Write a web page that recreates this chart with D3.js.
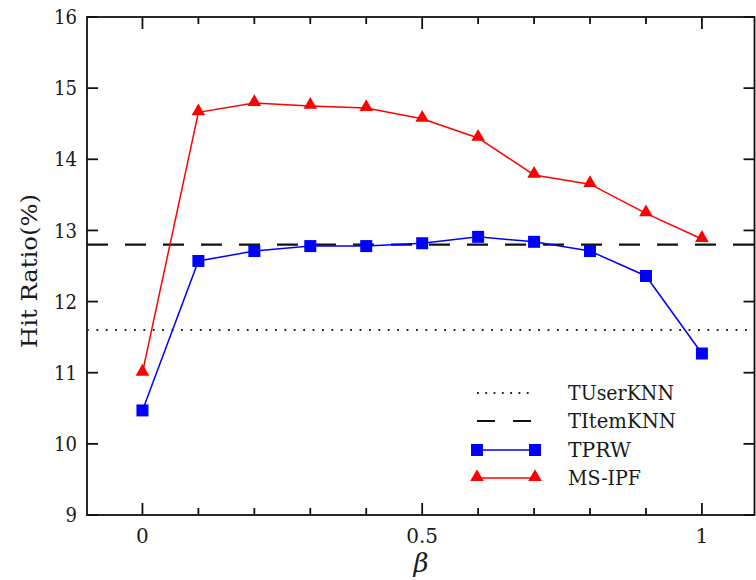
<!DOCTYPE html>
<html>
<head>
<meta charset="utf-8">
<script src="https://cdn.jsdelivr.net/npm/d3@7"></script>
<style>
  html, body { margin: 0; padding: 0; background: #fff; }
  svg { display: block; }
  text { font-family: "DejaVu Serif", "Liberation Serif", serif; fill: #1a1a1a; }
</style>
</head>
<body>
<svg id="chart" width="756" height="580"></svg>
<script>
// ---- data ----
const betas = [0, 0.1, 0.2, 0.3, 0.4, 0.5, 0.6, 0.7, 0.8, 0.9, 1.0];
const msipf = [11.0, 14.66, 14.79, 14.75, 14.72, 14.57, 14.30, 13.78, 13.65, 13.24, 12.88];
const tprw  = [10.47, 12.57, 12.71, 12.78, 12.78, 12.82, 12.91, 12.84, 12.71, 12.36, 11.27];
const tuserknn = 11.6;
const titemknn = 12.8;
const yTicks = [9, 10, 11, 12, 13, 14, 15, 16];
const xMajorTicks = [0, 0.5, 1];
const xMinorTicks = [0.1, 0.2, 0.3, 0.4, 0.6, 0.7, 0.8, 0.9];
const xTickLabels = ["0", "0.5", "1"];
const legendNames = ["TUserKNN", "TItemKNN", "TPRW", "MS-IPF"];

// ---- layout ----
const FONT = '"DejaVu Serif", "Liberation Serif", serif';
const svg = d3.select("#chart");
const L = 87, R = 754.5, T = 17, B = 515;
const x = d3.scaleLinear().domain([-0.1, 1.094]).range([86.5, 754.5]);
const y = d3.scaleLinear().domain([9, 16]).range([B, T]);

// frame
svg.append("rect").attr("x", L).attr("y", T).attr("width", R - L).attr("height", B - T)
  .attr("fill", "none").attr("stroke", "#111").attr("stroke-width", 1.8);

// reference lines
svg.append("line").attr("x1", L).attr("x2", R).attr("y1", y(tuserknn)).attr("y2", y(tuserknn))
  .attr("stroke", "#222").attr("stroke-width", 2).attr("stroke-dasharray", "1.8 7.6");
svg.append("line").attr("x1", L).attr("x2", R).attr("y1", y(titemknn)).attr("y2", y(titemknn))
  .attr("stroke", "#111").attr("stroke-width", 2.2).attr("stroke-dasharray", "21 17");

// ticks
const ax = svg.append("g").attr("stroke", "#111").attr("stroke-width", 1.8);
yTicks.forEach(v => {
  ax.append("line").attr("x1", L).attr("x2", L + 11).attr("y1", y(v)).attr("y2", y(v));
  ax.append("line").attr("x1", R - 11).attr("x2", R).attr("y1", y(v)).attr("y2", y(v));
});
xMajorTicks.forEach(v => {
  ax.append("line").attr("x1", x(v)).attr("x2", x(v)).attr("y1", B).attr("y2", B - 12);
  ax.append("line").attr("x1", x(v)).attr("x2", x(v)).attr("y1", T).attr("y2", T + 12);
});
xMinorTicks.forEach(v => {
  ax.append("line").attr("x1", x(v)).attr("x2", x(v)).attr("y1", B).attr("y2", B - 7);
  ax.append("line").attr("x1", x(v)).attr("x2", x(v)).attr("y1", T).attr("y2", T + 7);
});

// tick labels
yTicks.forEach(v => {
  svg.append("text").attr("x", L - 10).attr("y", y(v)).attr("dy", "0.36em")
    .attr("font-family", FONT).attr("text-anchor", "end").attr("font-size", 20)
    .attr("textLength", String(v).length * 11.5).attr("lengthAdjust", "spacingAndGlyphs").text(v);
});
xMajorTicks.forEach((v, i) => {
  svg.append("text").attr("x", x(v)).attr("y", 543).attr("font-family", FONT)
    .attr("text-anchor", "middle").attr("font-size", 20).text(xTickLabels[i]);
});

// axis titles
svg.append("text").attr("transform", "translate(37,271) rotate(-90)").attr("font-family", FONT)
  .attr("text-anchor", "middle").attr("font-size", 22)
  .attr("textLength", 154).attr("lengthAdjust", "spacingAndGlyphs").text("Hit Ratio(%)");
svg.append("text").attr("x", 421).attr("y", 572).attr("text-anchor", "middle").attr("font-family", FONT)
  .attr("font-size", 26).attr("font-style", "italic").text("β");

// series
const line = d3.line().x((d, i) => x(betas[i])).y(d => y(d));
svg.append("path").datum(tprw).attr("d", line).attr("fill", "none")
  .attr("stroke", "#0000ff").attr("stroke-width", 1.5);
svg.append("path").datum(msipf).attr("d", line).attr("fill", "none")
  .attr("stroke", "#ff0000").attr("stroke-width", 1.5);

const sq = d3.symbol().type(d3.symbolSquare).size(144);
const tri = d3.symbol().type(d3.symbolTriangle).size(80);
svg.append("g").selectAll("path").data(tprw).join("path")
  .attr("d", sq).attr("transform", (d, i) => `translate(${x(betas[i])},${y(d)})`).attr("fill", "#0000ff");
svg.append("g").selectAll("path").data(msipf).join("path")
  .attr("d", tri).attr("transform", (d, i) => `translate(${x(betas[i])},${y(d) - 1})`).attr("fill", "#ff0000");

// legend
const lg = svg.append("g");
const rowsY = [393, 421, 450, 478];
const lx1 = 477, lx2 = 535, tx = 568;
const textLens = [106, 108, 63, 73];
lg.append("line").attr("x1", lx1).attr("x2", lx2).attr("y1", rowsY[0]).attr("y2", rowsY[0])
  .attr("stroke", "#222").attr("stroke-width", 2).attr("stroke-dasharray", "1.8 6.5");
lg.append("line").attr("x1", lx1).attr("x2", lx2 + 1).attr("y1", rowsY[1]).attr("y2", rowsY[1])
  .attr("stroke", "#111").attr("stroke-width", 2.2).attr("stroke-dasharray", "18 18");
lg.append("line").attr("x1", lx1).attr("x2", lx2).attr("y1", rowsY[2]).attr("y2", rowsY[2])
  .attr("stroke", "#0000ff").attr("stroke-width", 1.5);
[lx1, lx2].forEach(px => lg.append("path").attr("d", sq)
  .attr("transform", `translate(${px},${rowsY[2]})`).attr("fill", "#0000ff"));
lg.append("line").attr("x1", lx1).attr("x2", lx2).attr("y1", rowsY[3]).attr("y2", rowsY[3])
  .attr("stroke", "#ff0000").attr("stroke-width", 1.5);
[lx1, lx2].forEach(px => lg.append("path").attr("d", tri)
  .attr("transform", `translate(${px},${rowsY[3] - 1})`).attr("fill", "#ff0000"));
legendNames.forEach((n, i) => {
  lg.append("text").attr("x", tx).attr("y", rowsY[i]).attr("dy", "0.36em").attr("font-family", FONT)
    .attr("font-size", 20).attr("textLength", textLens[i]).attr("lengthAdjust", "spacingAndGlyphs").text(n);
});
</script>
</body>
</html>
